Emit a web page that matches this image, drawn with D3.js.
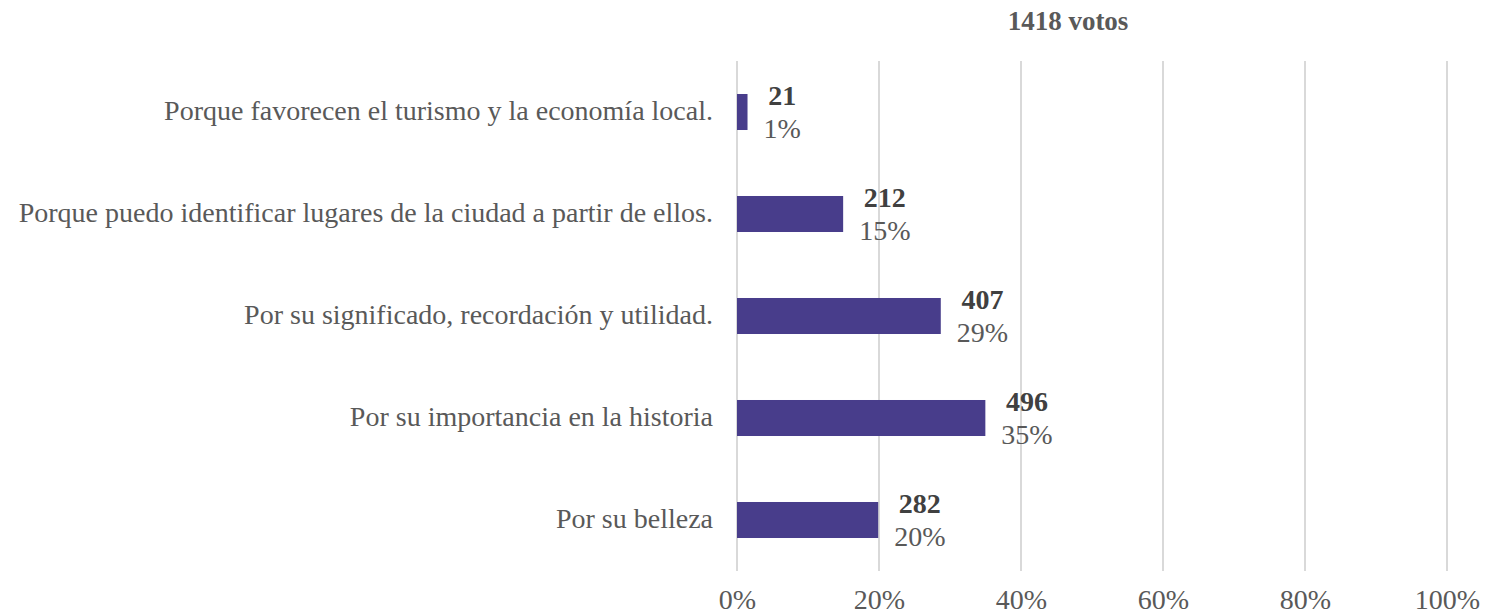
<!DOCTYPE html>
<html>
<head>
<meta charset="utf-8">
<script src="https://cdn.jsdelivr.net/npm/d3@7"></script>
<style>
  body { margin: 0; background: #fff; }
  svg text { font-family: "Liberation Serif", "Times New Roman", serif; }
</style>
</head>
<body>
<div id="chart"></div>
<script>
var svgWidth = 1485;
var svgHeight = 616;

var total = 1418;
var categories = [
    "Porque favorecen el turismo y la economía local.",
    "Porque puedo identificar lugares de la ciudad a partir de ellos.",
    "Por su significado, recordación y utilidad.",
    "Por su importancia en la historia",
    "Por su belleza"
];
var votes = [21, 212, 407, 496, 282];
var percentLabels = ["1%", "15%", "29%", "35%", "20%"];
var tickValues = [0, 0.2, 0.4, 0.6, 0.8, 1];

var data = categories.map(function(c, i) {
    return { cat: c, votes: votes[i], share: votes[i] / total, pct: percentLabels[i] };
});

var svg = d3.select("#chart")
    .append("svg")
    .attr("width", svgWidth)
    .attr("height", svgHeight);

var x = d3.scaleLinear().domain([0, 1]).range([737, 1447]);
var y = d3.scaleBand().domain(categories).range([61, 571]).paddingInner(0.647).paddingOuter(0.3235);

// title
svg.append("text")
    .attr("x", 1068)
    .attr("y", 30)
    .attr("text-anchor", "middle")
    .attr("font-size", 27)
    .attr("font-weight", 700)
    .attr("fill", "#595959")
    .text(total + " votos");

// gridlines
svg.append("g")
    .selectAll("line")
    .data(tickValues)
    .enter()
    .append("line")
    .attr("x1", d => x(d))
    .attr("x2", d => x(d))
    .attr("y1", 61)
    .attr("y2", 571)
    .attr("stroke", "#d9d9d9")
    .attr("stroke-width", 2);

// x axis labels
var xAxis = d3.axisBottom(x).tickValues(tickValues).tickFormat(d3.format(".0%")).tickSize(0).tickPadding(0);
var xg = svg.append("g")
    .attr("transform", "translate(0,609)")
    .call(xAxis);
xg.select(".domain").remove();
xg.selectAll("text")
    .attr("dy", 0)
    .attr("font-size", 28)
    .attr("fill", "#595959")
    .attr("font-family", "Liberation Serif, serif");

// category labels
svg.append("g")
    .selectAll("text")
    .data(data)
    .enter()
    .append("text")
    .attr("x", 713)
    .attr("y", d => y(d.cat) + y.bandwidth() / 2 + 8)
    .attr("text-anchor", "end")
    .attr("font-size", 28)
    .attr("fill", "#595959")
    .text(d => d.cat);

// bars
svg.append("g")
    .selectAll("rect")
    .data(data)
    .enter()
    .append("rect")
    .attr("x", x(0))
    .attr("y", d => y(d.cat))
    .attr("width", d => x(d.share) - x(0))
    .attr("height", y.bandwidth())
    .attr("fill", "#483D8B");

// value labels
var labels = svg.append("g")
    .selectAll("g")
    .data(data)
    .enter()
    .append("g");

labels.each(function(d) {
    var g = d3.select(this);
    var cy = y(d.cat) + y.bandwidth() / 2;
    var t1 = g.append("text")
        .attr("y", cy - 7)
        .attr("text-anchor", "middle")
        .attr("font-size", 28)
        .attr("font-weight", 700)
        .attr("fill", "#404040")
        .text(d.votes);
    var t2 = g.append("text")
        .attr("y", cy + 26)
        .attr("text-anchor", "middle")
        .attr("font-size", 28)
        .attr("fill", "#595959")
        .text(d.pct);
    var w = Math.max(t1.node().getComputedTextLength(), t2.node().getComputedTextLength());
    var cx = x(d.share) + 16 + w / 2;
    t1.attr("x", cx);
    t2.attr("x", cx);
});
</script>
</body>
</html>
